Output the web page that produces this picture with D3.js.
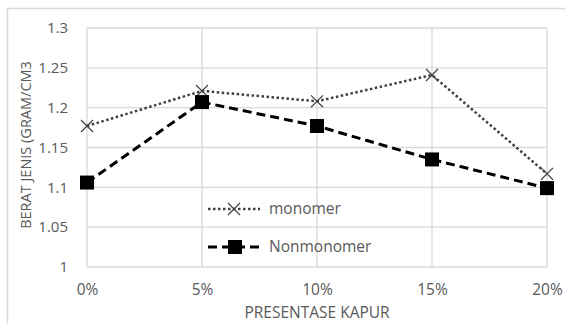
<!DOCTYPE html>
<html>
<head>
<meta charset="utf-8">
<script src="https://cdn.jsdelivr.net/npm/d3@7"></script>
<style>
  body { margin: 0; background: #fff; }
  text { font-family: "Open Sans", "Liberation Sans", sans-serif; fill: #595959; }
</style>
</head>
<body>
<div id="chart-area"></div>
<script>
// data
var categories = ["0%", "5%", "10%", "15%", "20%"];
var monomer = [1.177, 1.221, 1.208, 1.241, 1.117];
var nonmonomer = [1.106, 1.207, 1.177, 1.135, 1.099];
var yTicks = [1, 1.05, 1.1, 1.15, 1.2, 1.25, 1.3];
var yTickLabels = ["1", "1.05", "1.1", "1.15", "1.2", "1.25", "1.3"];

var margin = { top: 28, right: 18, bottom: 57, left: 87 };
var width = 565 - margin.left - margin.right;
var height = 324 - margin.top - margin.bottom;

var svgRoot = d3.select("#chart-area")
  .append("svg")
  .attr("width", 565)
  .attr("height", 324);

// chart border
svgRoot.append("rect")
  .attr("x", 7.5).attr("y", 8.5)
  .attr("width", 600).attr("height", 400)
  .attr("fill", "none")
  .attr("stroke", "#d9d9d9")
  .attr("stroke-width", 1.5);

var svg = svgRoot.append("g")
  .attr("transform", `translate(${margin.left}, ${margin.top})`);

// scales
var x = d3.scalePoint().domain(categories).range([0, width]);
var y = d3.scaleLinear().domain([1, 1.3]).range([height, 0]);

// gridlines
svg.append("g")
  .selectAll("line")
  .data(yTicks)
  .join("line")
  .attr("x1", 0).attr("x2", width)
  .attr("y1", d => y(d)).attr("y2", d => y(d))
  .attr("stroke", "#d9d9d9").attr("stroke-width", 1.3);

svg.append("g")
  .selectAll("line")
  .data(categories)
  .join("line")
  .attr("x1", d => x(d)).attr("x2", d => x(d))
  .attr("y1", 0).attr("y2", height)
  .attr("stroke", "#d9d9d9").attr("stroke-width", 1.3);

// axes (labels only)
var yAxis = d3.axisLeft(y).tickValues(yTicks)
  .tickFormat((d, i) => yTickLabels[i]).tickSize(0).tickPadding(19);
var xAxis = d3.axisBottom(x).tickSize(0).tickPadding(17);

svg.append("g").attr("class", "y-axis").call(yAxis)
  .call(g => g.select(".domain").remove())
  .selectAll("text")
  .style("font-size", "15px").attr("fill", "#595959");

svg.append("g").attr("class", "x-axis")
  .attr("transform", `translate(0, ${height})`)
  .call(xAxis)
  .call(g => g.select(".domain").remove())
  .selectAll("text")
  .style("font-size", "15.5px").attr("fill", "#595959");

// axis titles
svgRoot.append("text")
  .attr("x", 317).attr("y", 318)
  .attr("text-anchor", "middle")
  .style("font-size", "15.5px")
  .text("PRESENTASE KAPUR");

svgRoot.append("text")
  .attr("transform", "translate(31, 145) rotate(-90)")
  .attr("text-anchor", "middle")
  .style("font-size", "14.5px")
  .text("BERAT JENIS (GRAM/CM3");

// lines
var line = d3.line().x((d, i) => x(categories[i])).y(d => y(d));

svg.append("path")
  .datum(monomer)
  .attr("d", line)
  .attr("fill", "none")
  .attr("stroke", "#404040")
  .attr("stroke-width", 2.5)
  .attr("stroke-dasharray", "2.5,2.5");

svg.append("path")
  .datum(nonmonomer)
  .attr("d", line)
  .attr("fill", "none")
  .attr("stroke", "#000")
  .attr("stroke-width", 3)
  .attr("stroke-dasharray", "9,5");

// markers
var cross = d3.symbol().type(d3.symbolX).size(95);
svg.selectAll(".mono-pt")
  .data(monomer)
  .join("path")
  .attr("class", "mono-pt")
  .attr("transform", (d, i) => `translate(${x(categories[i])}, ${y(d)})`)
  .attr("d", cross)
  .attr("fill", "none")
  .attr("stroke", "#404040")
  .attr("stroke-width", 1.2);

svg.selectAll(".non-pt")
  .data(nonmonomer)
  .join("rect")
  .attr("class", "non-pt")
  .attr("x", (d, i) => x(categories[i]) - 7)
  .attr("y", d => y(d) - 7)
  .attr("width", 14).attr("height", 14)
  .attr("fill", "#000");

// legend
var legend = svgRoot.append("g");
var legendItems = [
  { name: "monomer", y: 209 },
  { name: "Nonmonomer", y: 247 }
];

legend.append("line")
  .attr("x1", 208).attr("x2", 260)
  .attr("y1", legendItems[0].y).attr("y2", legendItems[0].y)
  .attr("stroke", "#404040").attr("stroke-width", 2.5)
  .attr("stroke-dasharray", "2.5,2.5");
legend.append("path")
  .attr("transform", `translate(234, ${legendItems[0].y})`)
  .attr("d", cross)
  .attr("fill", "none").attr("stroke", "#404040").attr("stroke-width", 1.2);

legend.append("line")
  .attr("x1", 208).attr("x2", 262)
  .attr("y1", legendItems[1].y).attr("y2", legendItems[1].y)
  .attr("stroke", "#000").attr("stroke-width", 3)
  .attr("stroke-dasharray", "9,5");
legend.append("rect")
  .attr("x", 228).attr("y", legendItems[1].y - 7)
  .attr("width", 14).attr("height", 14)
  .attr("fill", "#000");

legend.selectAll("text")
  .data(legendItems)
  .join("text")
  .attr("x", 269)
  .attr("y", d => d.y + 5)
  .style("font-size", "15.5px")
  .text(d => d.name);
</script>
</body>
</html>
